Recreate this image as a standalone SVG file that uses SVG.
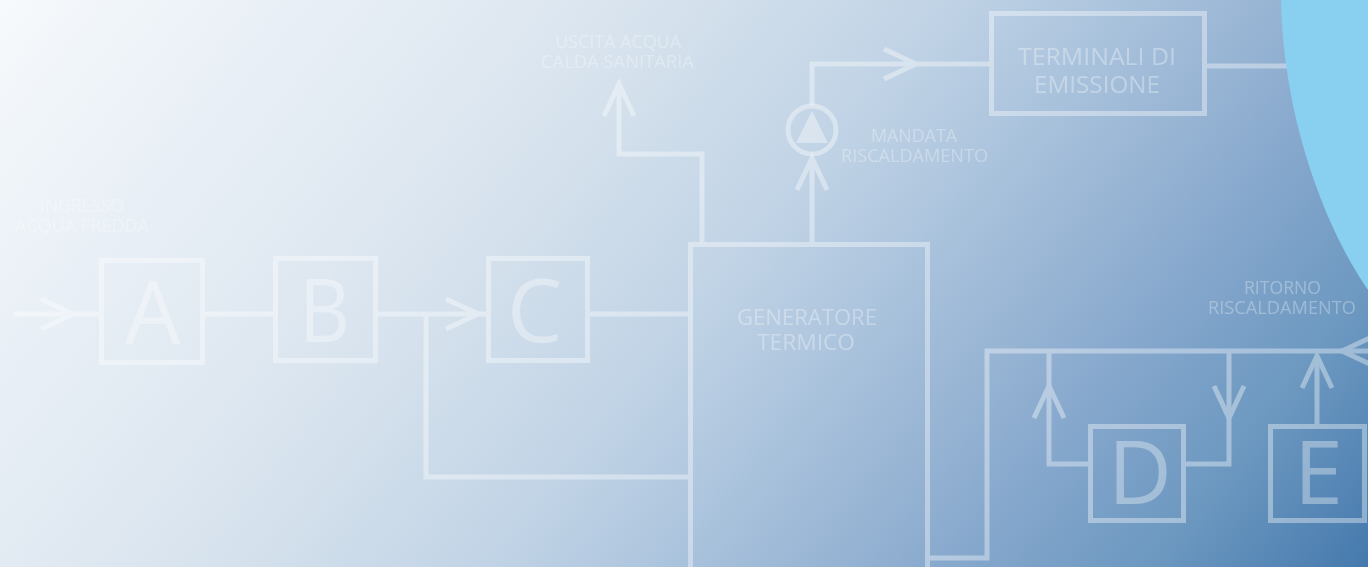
<svg xmlns="http://www.w3.org/2000/svg" width="1368" height="567" viewBox="0 0 1368 567">
<style>
.box{fill:none;stroke:#fff;stroke-width:5}
.ln{fill:none;stroke:#fff;stroke-width:5;stroke-linejoin:miter}
text{font-family:"Open Sans","Noto Sans",sans-serif;fill:#fff;text-anchor:start}
.lab{font-size:18px;opacity:.3}
.mid{font-size:24px;opacity:.33}
.big{font-size:88px;opacity:.35}
.node{opacity:.38}
#connectors{opacity:.38}
</style>
<defs>
<linearGradient id="bg" gradientUnits="userSpaceOnUse" x1="0" y1="0" x2="1111" y2="889">
<stop offset="0" stop-color="#f7fafc"/>
<stop offset=".08" stop-color="#eff4f9"/>
<stop offset=".29" stop-color="#dfe8f1"/>
<stop offset=".39" stop-color="#d3e0ec"/>
<stop offset=".527" stop-color="#bfd2e5"/>
<stop offset=".623" stop-color="#a9c2dc"/>
<stop offset=".708" stop-color="#96b3d3"/>
<stop offset=".79" stop-color="#82a5cb"/>
<stop offset=".88" stop-color="#6c98c0"/>
<stop offset="1" stop-color="#4579ad"/>
</linearGradient>
<path id="arrow" d="M-32,-15L0,0L-32,15"/>
</defs>
<rect width="1368" height="567" fill="url(#bg)"/>
<g id="connectors" class="ln">
<path d="M14,314H99"/>
<path d="M205,314H273"/>
<path d="M378,314H486"/>
<path d="M590,314H688"/>
<path d="M426,314V477H688"/>
<path d="M702,242V154H619V86"/>
<path d="M812,242V160"/>
<path d="M812,105V64H989"/>
<path d="M1207,66H1290"/>
<path d="M930,558H987V351H1368"/>
<path d="M1049,351V464H1088"/>
<path d="M1186,464H1229V351"/>
<path d="M1317,424V356"/>
<use href="#arrow" transform="translate(73,314)"/>
<use href="#arrow" transform="translate(478,314)"/>
<use href="#arrow" transform="translate(619,84) rotate(-90)"/>
<use href="#arrow" transform="translate(812,158) rotate(-90)"/>
<use href="#arrow" transform="translate(916,64)"/>
<use href="#arrow" transform="translate(1342,351) rotate(180)"/>
<use href="#arrow" transform="translate(1049,386) rotate(-90)"/>
<use href="#arrow" transform="translate(1229,418) rotate(90)"/>
<use href="#arrow" transform="translate(1317,356) rotate(-90)"/>
</g>
<g id="label-ingresso">
<text class="lab" x="40" y="212" textLength="84" lengthAdjust="spacingAndGlyphs">INGRESSO</text>
<text class="lab" x="15" y="232" textLength="134" lengthAdjust="spacingAndGlyphs">ACQUA FREDDA</text>
</g>
<g id="node-a">
<rect class="box node" x="101.5" y="260.5" width="101" height="102"/>
<text class="big" x="125" y="344">A</text>
</g>
<g id="node-b">
<rect class="box node" x="275.5" y="258.5" width="100" height="102"/>
<text class="big" x="299" y="342" textLength="51" lengthAdjust="spacingAndGlyphs">B</text>
</g>
<g id="node-c">
<rect class="box node" x="488.5" y="258.5" width="99" height="102"/>
<text class="big" x="507" y="342">C</text>
</g>
<g id="node-generatore">
<rect class="box node" x="690.5" y="244.5" width="237" height="330"/>
<text class="mid" x="737" y="325" style="font-size:22px" textLength="140" lengthAdjust="spacingAndGlyphs">GENERATORE</text>
<text class="mid" x="757" y="350" style="font-size:22px" textLength="98" lengthAdjust="spacingAndGlyphs">TERMICO</text>
</g>
<g id="label-uscita">
<text class="lab" x="555" y="48" textLength="126" lengthAdjust="spacingAndGlyphs">USCITA ACQUA</text>
<text class="lab" x="541" y="68" textLength="153" lengthAdjust="spacingAndGlyphs">CALDA SANITARIA</text>
</g>
<g id="node-pompa">
<circle class="box node" cx="812" cy="130" r="24"/>
<polygon points="812,111 828,143 796,143" fill="#fff" opacity=".38"/>
</g>
<g id="label-mandata">
<text class="lab" x="871" y="142" textLength="86" lengthAdjust="spacingAndGlyphs">MANDATA</text>
<text class="lab" x="841" y="162" textLength="147" lengthAdjust="spacingAndGlyphs">RISCALDAMENTO</text>
</g>
<g id="node-terminali">
<rect class="box node" x="991.5" y="13.5" width="213" height="100"/>
<text class="mid" x="1018" y="65" textLength="158" lengthAdjust="spacingAndGlyphs">TERMINALI DI</text>
<text class="mid" x="1034" y="92.5" textLength="126" lengthAdjust="spacingAndGlyphs">EMISSIONE</text>
</g>
<g id="label-ritorno">
<text class="lab" x="1244" y="294" textLength="77" lengthAdjust="spacingAndGlyphs">RITORNO</text>
<text class="lab" x="1208" y="314" textLength="148" lengthAdjust="spacingAndGlyphs">RISCALDAMENTO</text>
</g>
<g id="node-d">
<rect class="box node" x="1090.5" y="426.5" width="93" height="94"/>
<text class="big" x="1108" y="504">D</text>
</g>
<g id="node-e">
<rect class="box node" x="1270.5" y="426.5" width="94" height="94"/>
<text class="big" x="1294" y="504">E</text>
</g>
<path id="blue-shape" d="M1281,0C1283,110 1320,220 1368,290V0Z" fill="#89cff0"/>
</svg>
